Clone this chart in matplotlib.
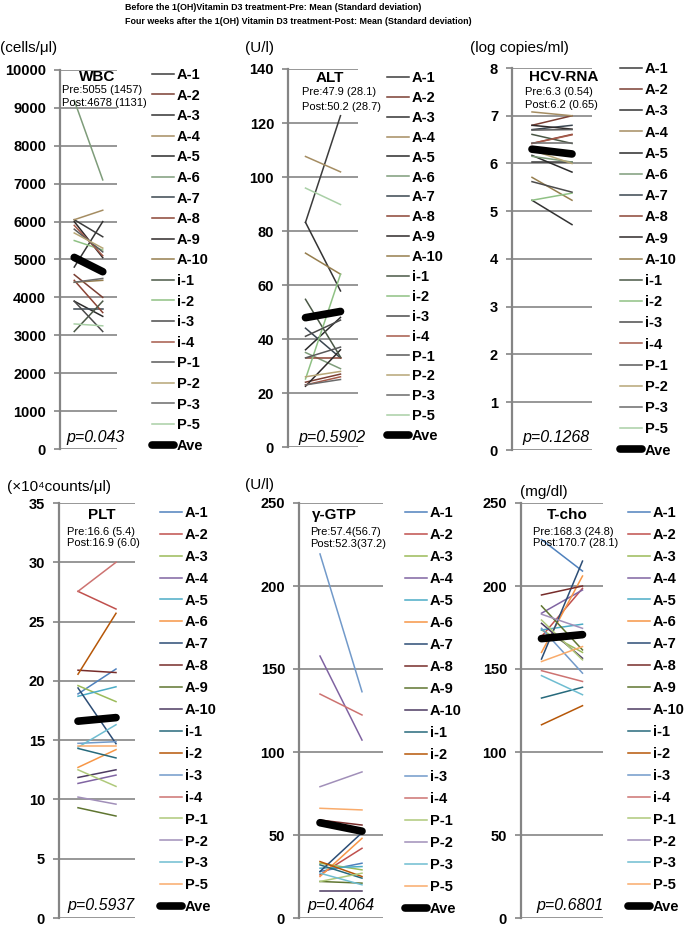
import matplotlib
matplotlib.use("Agg")
import matplotlib.pyplot as plt

plt.rcParams['font.family'] = ['Liberation Sans', 'DejaVu Sans']

# patients and the two time points
patients = ['A-1', 'A-2', 'A-3', 'A-4', 'A-5', 'A-6', 'A-7', 'A-8', 'A-9', 'A-10',
            'i-1', 'i-2', 'i-3', 'i-4', 'P-1', 'P-2', 'P-3', 'P-5']
timepoints = [0, 1]  # pre, post

wbc_pre = [6050, 4600, 4800, 6050, 3900, 9200, 3700, 4450, 6000, 4400,
           3100, 5500, 3900, 5900, 5800, 5700, 4400, 3300]
wbc_post = [5600, 4000, 6000, 6300, 3500, 7100, 3700, 3600, 5050, 4450,
            3900, 5250, 3100, 5100, 5200, 5300, 4500, 3250]
wbc_ave = [5055, 4678]

alt_pre = [83.2, 24, 83.2, 107.6, 36, 35, 44, 33, 22.5, 71.8,
           54.7, 25.2, 41, 23, 33, 26, 23, 95.9]
alt_post = [122.7, 27, 57.8, 101.9, 48, 29, 33, 33, 36, 64.0,
            33.3, 64.0, 47, 26, 37, 28, 25, 89.8]
alt_ave = [47.9, 50.2]

hcv_pre = [6.03, 6.8, 5.23, 7.08, 6.17, 6.15, 6.71, 6.42, 6.8, 5.71,
           6.61, 5.23, 5.62, 6.42, 6.7, 6.28, 6.42, 6.3]
hcv_post = [6.03, 7.0, 4.72, 7.0, 5.82, 6.03, 6.8, 6.61, 6.72, 5.23,
            6.42, 5.38, 5.4, 6.6, 6.71, 6.0, 6.42, 6.15]
hcv_ave = [6.3, 6.2]

plt_pre = [18.9, 27.55, 19.6, 11.35, 18.7, 12.7, 19.4, 20.9, 9.3, 11.85,
           14.3, 20.56, 14.73, 27.55, 12.5, 10.2, 14.4, 14.5]
plt_post = [21.0, 26.06, 18.25, 12.05, 19.5, 14.2, 14.7, 20.7, 8.6, 12.5,
            13.5, 25.7, 14.87, 30.0, 11.1, 9.6, 16.3, 14.5]
plt_ave = [16.6, 16.9]

gtp_pre = [28, 26, 33, 157.8, 30, 25, 28, 59, 22, 16,
           32, 34, 219.3, 134.9, 22, 79.1, 27, 66.1]
gtp_post = [33, 42, 29, 107.2, 31, 48, 51.4, 56, 21, 16,
            24, 25, 136.3, 122.3, 27, 88, 20, 65.1]
gtp_ave = [57.4, 52.3]

tcho_pre = [228, 169.5, 173.5, 183.6, 173.5, 160, 156, 194.6, 188, 177.5,
            132.5, 116.4, 174.5, 149, 179.5, 183, 146, 154.5]
tcho_post = [209, 198.6, 160, 197.6, 177, 206, 215, 200, 161.5, 156.5,
             139, 127.9, 147.5, 142.5, 155.5, 174.5, 134.5, 163.5]
tcho_ave = [168.3, 170.7]

top_colors = ['#3c3c3c', '#7b3f33', '#333333', '#a58d62', '#2b2b2b', '#7e9c7a',
              '#3a4650', '#8c4536', '#2f2a2a', '#967e4e', '#4a5846', '#8fc184',
              '#4b4b4b', '#a55a4a', '#5a5a5a', '#b7a676', '#6b6b6b', '#a9cfa6']
bottom_colors = ['#4F81BD', '#C0504D', '#9BBB59', '#8064A2', '#4BACC6', '#F79646',
                 '#2C4D75', '#772C2A', '#5F7530', '#4D3B62', '#276A7C', '#B65708',
                 '#729ACA', '#CD7371', '#AFC97A', '#A18FB9', '#6FBDD1', '#F9AB6B']

W, H = 694, 930
fig = plt.figure(figsize=(W / 100, H / 100), dpi=100)


def ftext(x, y, s, **kw):
    # figure text placed in pixel coords measured from the top-left corner
    return fig.text(x / W, 1 - y / H, s, **kw)


panels = [
    dict(name='WBC', unit='(cells/μl)', pre=wbc_pre, post=wbc_post, ave=wbc_ave,
         ymax=10000, step=1000, stats=('Pre:5055 (1457)', 'Post:4678 (1131)'),
         p='p=0.043', colors=top_colors, box=(60, 70, 117, 449),
         title_xy=(97, 77), stats_xy=(62, 90, 103), p_xy=(96, 437), unit_xy=(0, 48),
         leg=(152, 74, 20.5)),
    dict(name='ALT', unit='(U/l)', pre=alt_pre, post=alt_post, ave=alt_ave,
         ymax=140, step=20, stats=('Pre:47.9 (28.1)', 'Post:50.2 (28.7)'),
         p='p=0.5902', colors=top_colors, box=(288, 69, 358, 447),
         title_xy=(330, 78), stats_xy=(302, 92, 107), p_xy=(332, 437), unit_xy=(245, 48),
         leg=(387, 77, 19.8)),
    dict(name='HCV-RNA', unit='(log copies/ml)', pre=hcv_pre, post=hcv_post, ave=hcv_ave,
         ymax=8, step=1, stats=('Pre:6.3 (0.54)', 'Post:6.2 (0.65)'),
         p='p=0.1268', colors=top_colors, box=(512, 68, 592, 450),
         title_xy=(564, 77), stats_xy=(525, 92, 105), p_xy=(556, 437), unit_xy=(470, 48),
         leg=(620, 68, 21.1)),
    dict(name='PLT', unit='(×10⁴counts/μl)', pre=plt_pre, post=plt_post, ave=plt_ave,
         ymax=35, step=5, stats=('Pre:16.6 (5.4)', 'Post:16.9 (6.0)'),
         p='p=0.5937', colors=bottom_colors, box=(59, 503, 135, 918),
         title_xy=(102, 515), stats_xy=(67, 532, 543), p_xy=(101, 905), unit_xy=(7, 487),
         leg=(160, 512, 21.8)),
    dict(name='γ-GTP', unit='(U/l)', pre=gtp_pre, post=gtp_post, ave=gtp_ave,
         ymax=250, step=50, stats=('Pre:57.4(56.7)', 'Post:52.3(37.2)'),
         p='p=0.4064', colors=bottom_colors, box=(299, 503, 383, 918),
         title_xy=(334, 515), stats_xy=(310, 532, 544), p_xy=(341, 905), unit_xy=(245, 485),
         leg=(405, 512, 21.9)),
    dict(name='T-cho', unit='(mg/dl)', pre=tcho_pre, post=tcho_post, ave=tcho_ave,
         ymax=250, step=50, stats=('Pre:168.3 (24.8)', 'Post:170.7 (28.1)'),
         p='p=0.6801', colors=bottom_colors, box=(521, 503, 603, 918),
         title_xy=(567, 515), stats_xy=(533, 532, 543), p_xy=(570, 905), unit_xy=(520, 492),
         leg=(628, 512, 21.8)),
]

GRID = '#858585'

for pn in panels:
    l, t, r, b = pn['box']
    ax = fig.add_axes([l / W, 1 - b / H, (r - l) / W, (b - t) / H])
    for name, y0, y1, c in zip(patients, pn['pre'], pn['post'], pn['colors']):
        ax.plot(timepoints, [y0, y1], color=c, lw=1.1, label=name)
    ax.plot(timepoints, pn['ave'], color='black', lw=5.5, solid_capstyle='round',
            label='Ave', zorder=5)

    ax.set_xlim(-0.5, 1.5)
    ax.set_ylim(0, pn['ymax'])
    ticks = list(range(0, pn['ymax'] + 1, pn['step']))
    ax.set_yticks(ticks)
    ax.set_yticklabels([str(v) for v in ticks], fontsize=10.5, fontweight='bold')
    ax.set_xticks([])
    ax.grid(axis='y', color=GRID, lw=1.2)
    ax.set_axisbelow(True)
    ax.tick_params(axis='y', color=GRID, length=4, width=1.2, pad=6)
    for side in ['top', 'right', 'bottom']:
        ax.spines[side].set_visible(False)
    ax.spines['left'].set_color(GRID)
    ax.spines['left'].set_linewidth(1.6)
    ax.set_facecolor('none')

    # legend on the right, one row per patient
    lx, ly, sp = pn['leg']
    fs = 10.5
    leg = ax.legend(loc='upper left', bbox_to_anchor=(lx / W, 1 - (ly - 6) / H),
                    bbox_transform=fig.transFigure, frameon=False, fontsize=fs,
                    handlelength=1.5, handletextpad=0.2, borderpad=0, borderaxespad=0,
                    labelspacing=(sp - 13.9) / (fs * 100 / 72))
    for txt in leg.get_texts():
        txt.set_fontweight('bold')

    tx, ty = pn['title_xy']
    ftext(tx, ty, pn['name'], ha='center', va='center', fontsize=11, fontweight='bold')
    sx, sy0, sy1 = pn['stats_xy']
    ftext(sx, sy0, pn['stats'][0], ha='left', va='center', fontsize=8)
    ftext(sx, sy1, pn['stats'][1], ha='left', va='center', fontsize=8)
    px, py = pn['p_xy']
    ftext(px, py, pn['p'], ha='center', va='center', fontsize=11.5, style='italic')
    ux, uy = pn['unit_xy']
    ftext(ux, uy, pn['unit'], ha='left', va='center', fontsize=11)

ftext(125, 8, 'Before the 1(OH)Vitamin D3 treatment-Pre: Mean (Standard deviation)',
      ha='left', va='center', fontsize=6.4, fontweight='bold')
ftext(125, 22, 'Four weeks after the 1(OH) Vitamin D3 treatment-Post: Mean (Standard deviation)',
      ha='left', va='center', fontsize=6.4, fontweight='bold')

fig.savefig('out.png', dpi=100)
